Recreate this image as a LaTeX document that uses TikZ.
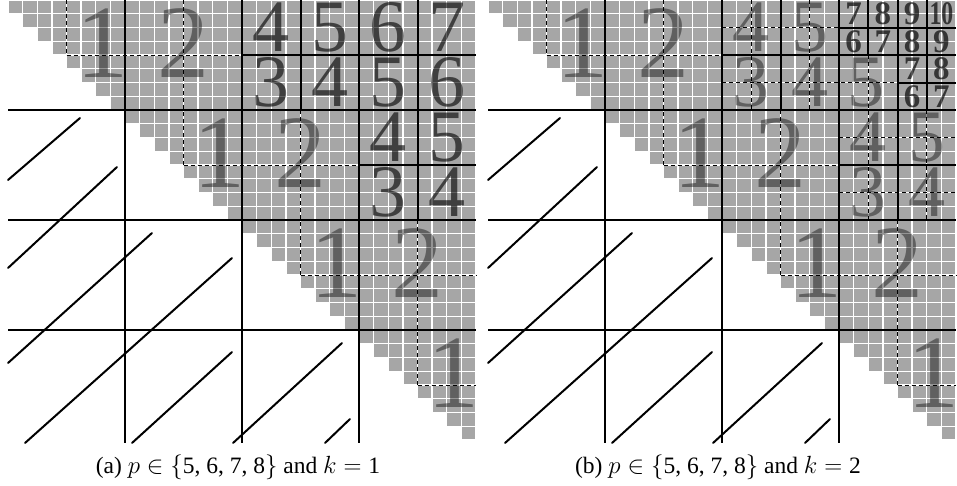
\documentclass[tikz,border=0pt]{standalone}
\usepackage{fontspec}
\setmainfont{Liberation Serif}

\begin{document}
\begin{tikzpicture}[
    x=1pt, y=-1pt,
    cell/.style={fill=black!35},
    blockline/.style={line width=2.3pt},
    subline/.style={line width=2pt},
    midline/.style={line width=0.9pt, dash pattern=on 4pt off 3pt},
    hatch/.style={line width=2pt, line cap=round},
    bigdigit/.style={inner sep=0pt, text=black, text opacity=0.42, font=\fontsize{104}{104}\selectfont},
    subdigit/.style={inner sep=0pt, text=black, text opacity=0.42, font=\fontsize{74}{74}\selectfont},
    darkdigit/.style={subdigit, text opacity=0.62},
    tinydigit/.style={inner sep=0pt, text=black, text opacity=0.68, font=\fontsize{33}{33}\selectfont\bfseries},
    caption/.style={inner sep=0pt, font=\fontsize{23.5}{28}\selectfont}
]
  \useasboundingbox (0,0) rectangle (957,485);
  \def\xo{8}
  \def\bw{117}
  \def\bh{110}
  \def\cw{14.625}
  \def\rh{13.75}

  \foreach \p/\ox in {a/0,b/480} {
    \begin{scope}[xshift=\ox pt]
      % upper triangle of cells
      \foreach \r in {0,...,31} {
        \foreach \c in {\r,...,31} {
          \fill[cell] (\xo+\cw*\c+0.7, \rh*\r+0.7) rectangle (\xo+\cw*\c+\cw-0.7, \rh*\r+\rh-0.7);
        }
      }

      % block digits on and above the diagonal
      \foreach \k in {0,...,3} {
        \node[bigdigit] (\p-one-\k) at (\xo+\bw*\k+94, \bh*\k+43) {1};
      }
      \foreach \k in {0,1,2} {
        \node[bigdigit] (\p-two-\k) at (\xo+\bw*\k+\bw+58.5, \bh*\k+43) {2};
      }

      % dashed block midlines
      \draw[midline] (\xo+58.5, 0) -- (\xo+58.5, 55);
      \foreach \k in {0,1,2} {
        \draw[midline] (\xo+\bw*\k+58.5, \bh*\k+55) -- (\xo+\bw*\k+2*\bw, \bh*\k+55);
        \draw[midline] (\xo+\bw*\k+\bw+58.5, \bh*\k) -- (\xo+\bw*\k+\bw+58.5, \bh*\k+\bh+55);
      }
      \draw[midline] (\xo+3*\bw+58.5, 3*\bh+55) -- (\xo+4*\bw, 3*\bh+55);

      % solid splits of the far blocks
      \draw[subline] (\xo+2*\bw, 55) -- (\xo+4*\bw, 55);
      \draw[subline] (\xo+2*\bw+58.5, 0) -- (\xo+2*\bw+58.5, \bh);
      \draw[subline] (\xo+3*\bw+58.5, 0) -- (\xo+3*\bw+58.5, 2*\bh);
      \draw[subline] (\xo+3*\bw, 165) -- (\xo+4*\bw, 165);

      % block grid
      \foreach \k in {1,2,3} {
        \draw[blockline] (\xo+\bw*\k, 0) -- (\xo+\bw*\k, 443);
        \draw[blockline] (\xo, \bh*\k) -- (\xo+4*\bw, \bh*\k);
      }

      % hatched lower blocks
      \foreach \sx/\sy/\ex/\ey in {8/180/80/118, 8/268/117/167, 8/363/152/233,
          25/443/232/258, 132/443/232/352, 233/443/342/343, 325/443/350/419} {
        \draw[hatch] (\sx,\sy) -- (\ex,\ey);
      }
    \end{scope}
  }

  % panel (a): dark digits in split blocks
  \foreach \m/\t/\u in {0/4/3, 1/5/4, 2/6/5, 3/7/6} {
    \node[darkdigit] (a-top-\m) at (\xo+2*\bw+29.25+58.5*\m, 27.5) {\t};
    \node[darkdigit] (a-bot-\m) at (\xo+2*\bw+29.25+58.5*\m, 82.5) {\u};
  }
  \foreach \m/\t/\u in {0/4/3, 1/5/4} {
    \node[darkdigit] (a-mid-\m-t) at (\xo+3*\bw+29.25+58.5*\m, 137.5) {\t};
    \node[darkdigit] (a-mid-\m-b) at (\xo+3*\bw+29.25+58.5*\m, 192.5) {\u};
  }

  \begin{scope}[xshift=480pt]
    % panel (b): finer solid splits
    \draw[subline] (\xo+3*\bw, 27.5) -- (\xo+4*\bw, 27.5);
    \draw[subline] (\xo+3*\bw+29.25, 0) -- (\xo+3*\bw+29.25, 55);
    \draw[subline] (\xo+3*\bw+87.75, 0) -- (\xo+3*\bw+87.75, 110);
    \draw[subline] (\xo+3*\bw+58.5, 82.5) -- (\xo+4*\bw, 82.5);

    % panel (b): dashed midlines of the quarter blocks
    \draw[midline] (\xo+2*\bw+29.25, 0) -- (\xo+2*\bw+29.25, 110);
    \draw[midline] (\xo+2*\bw+87.75, 0) -- (\xo+2*\bw+87.75, 110);
    \draw[midline] (\xo+2*\bw, 27.5) -- (\xo+3*\bw, 27.5);
    \draw[midline] (\xo+2*\bw, 82.5) -- (\xo+3*\bw+58.5, 82.5);
    \draw[midline] (\xo+3*\bw+29.25, 55) -- (\xo+3*\bw+29.25, 220);
    \draw[midline] (\xo+3*\bw+87.75, 110) -- (\xo+3*\bw+87.75, 220);
    \draw[midline] (\xo+3*\bw, 137.5) -- (\xo+4*\bw, 137.5);
    \draw[midline] (\xo+3*\bw, 192.5) -- (\xo+4*\bw, 192.5);

    % panel (b): light digits
    \foreach \m/\t/\u in {0/4/3, 1/5/4} {
      \node[subdigit] (b-top-\m) at (\xo+2*\bw+29.25+58.5*\m, 27.5) {\t};
      \node[subdigit] (b-bot-\m) at (\xo+2*\bw+29.25+58.5*\m, 82.5) {\u};
      \node[subdigit] (b-mid-\m-t) at (\xo+3*\bw+29.25+58.5*\m, 137.5) {\t};
      \node[subdigit] (b-mid-\m-b) at (\xo+3*\bw+29.25+58.5*\m, 192.5) {\u};
    }
    \node[subdigit] (b-five) at (\xo+3*\bw+27, 82.5) {5};

    % panel (b): small dark digits
    \foreach \m/\t/\u in {0/7/6, 1/8/7, 2/9/8} {
      \node[tinydigit] (b-tt-\m) at (\xo+3*\bw+14.6+29.25*\m, 13.75) {\t};
      \node[tinydigit] (b-tb-\m) at (\xo+3*\bw+14.6+29.25*\m, 41.25) {\u};
    }
    \node[tinydigit] (b-tt-3) at (\xo+3*\bw+102.4, 13.75) {\scalebox{0.72}[1]{10}};
    \node[tinydigit] (b-tb-3) at (\xo+3*\bw+102.4, 41.25) {9};
    \foreach \m/\t/\u in {0/7/6, 1/8/7} {
      \node[tinydigit] (b-bt-\m) at (\xo+3*\bw+73.1+29.25*\m, 68.75) {\t};
      \node[tinydigit] (b-bb-\m) at (\xo+3*\bw+73.1+29.25*\m, 96.25) {\u};
    }
  \end{scope}

  % captions
  \node[caption] (cap-a) at (238,467) {(a) $p \in \{\mbox{5, 6, 7, 8}\}$ and $k = \mbox{1}$};
  \node[caption] (cap-b) at (718,467) {(b) $p \in \{\mbox{5, 6, 7, 8}\}$ and $k = \mbox{2}$};
\end{tikzpicture}
\end{document}
